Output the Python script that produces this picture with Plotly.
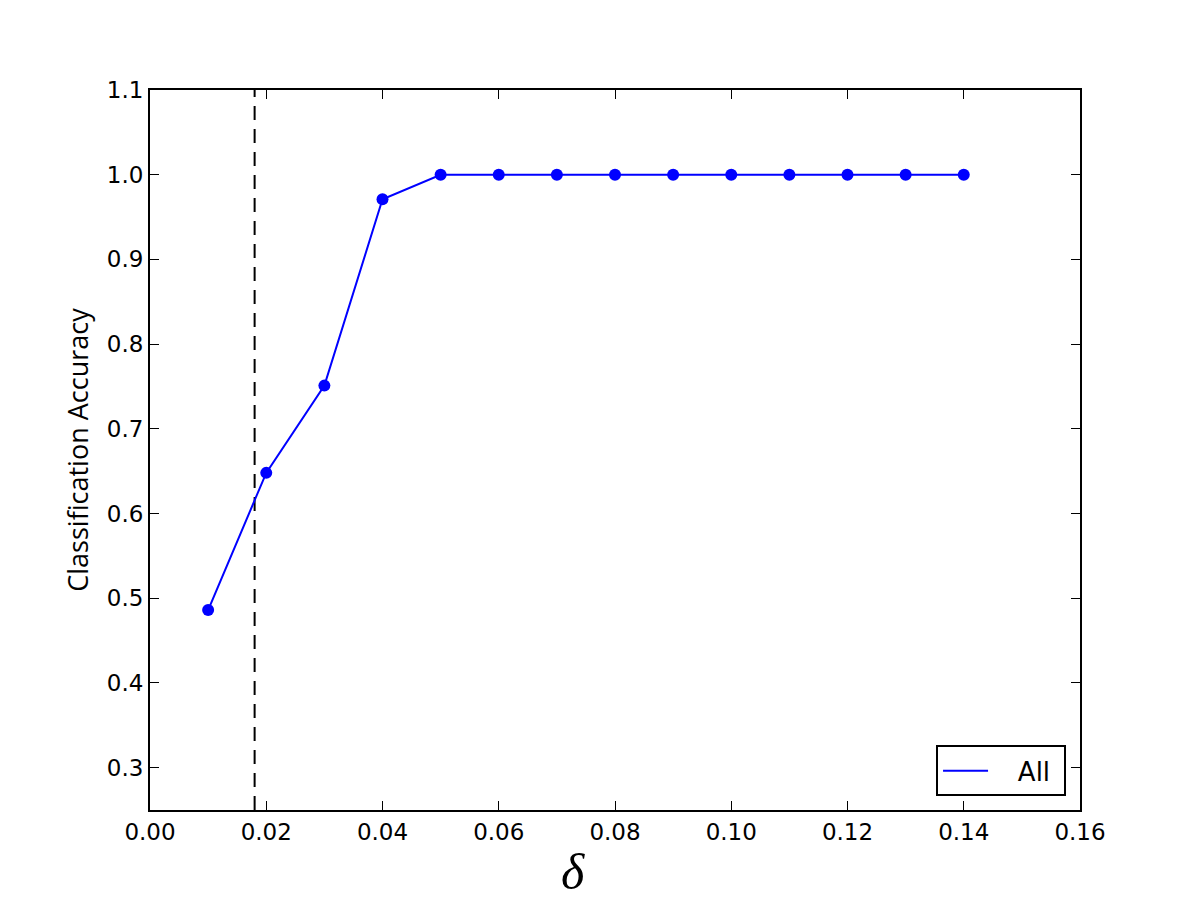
import plotly.graph_objects as go

delta = [0.01, 0.02, 0.03, 0.04, 0.05, 0.06, 0.07, 0.08, 0.09, 0.10, 0.11, 0.12, 0.13, 0.14]
accuracy = [0.486, 0.648, 0.751, 0.971, 1.0, 1.0, 1.0, 1.0, 1.0, 1.0, 1.0, 1.0, 1.0, 1.0]
threshold = 0.018
x_ticks = [0.00, 0.02, 0.04, 0.06, 0.08, 0.10, 0.12, 0.14, 0.16]
y_ticks = [0.3, 0.4, 0.5, 0.6, 0.7, 0.8, 0.9, 1.0, 1.1]

fig = go.Figure()

# vertical dashed threshold
fig.add_trace(go.Scatter(
    x=[threshold, threshold], y=[0.25, 1.1],
    mode="lines", line=dict(color="black", width=2, dash="14px,9px"),
    showlegend=False, hoverinfo="skip"
))

fig.add_trace(go.Scatter(
    x=delta, y=accuracy, name="All",
    mode="lines+markers",
    line=dict(color="#0000ff", width=2),
    marker=dict(color="#0000ff", size=12),
    showlegend=False,
))

# legend entry shows the line only (matplotlib style)
fig.add_trace(go.Scatter(
    x=[None], y=[None], name="\u00a0\u00a0\u00a0All\u00a0",
    mode="lines", line=dict(color="#0000ff", width=2),
))

axis_style = dict(
    showline=True, linecolor="black", linewidth=2, mirror="allticks",
    ticks="inside", ticklen=9, tickcolor="black", tickwidth=1,
    showgrid=False, zeroline=False,
    tickfont=dict(family="DejaVu Sans", size=23, color="black"),
)

fig.update_xaxes(
    range=[0, 0.16], tickvals=x_ticks, ticktext=[f"{v:.2f}" for v in x_ticks],
    **axis_style
)
fig.update_yaxes(
    range=[0.25, 1.1], tickvals=y_ticks, ticktext=[f"{v:.1f}" for v in y_ticks],
    title=dict(text="Classification Accuracy", font=dict(family="Open Sans", size=27, color="black"), standoff=10),
    **axis_style
)

fig.add_annotation(
    text="<i>δ</i>", xref="paper", yref="paper", x=0.455, y=-0.127,
    yanchor="bottom", borderpad=0,
    showarrow=False, font=dict(family="Liberation Serif", size=50, color="black"),
)

fig.update_layout(
    width=1200, height=903,
    margin=dict(l=142, r=128, t=82, b=101),
    plot_bgcolor="white", paper_bgcolor="white",
    legend=dict(
        x=0.985, y=0.019, xanchor="right", yanchor="bottom",
        bordercolor="black", borderwidth=2, bgcolor="white",
        font=dict(family="DejaVu Sans", size=26, color="black"),
        itemwidth=45,
    ),
)

fig.write_html("out.html")
